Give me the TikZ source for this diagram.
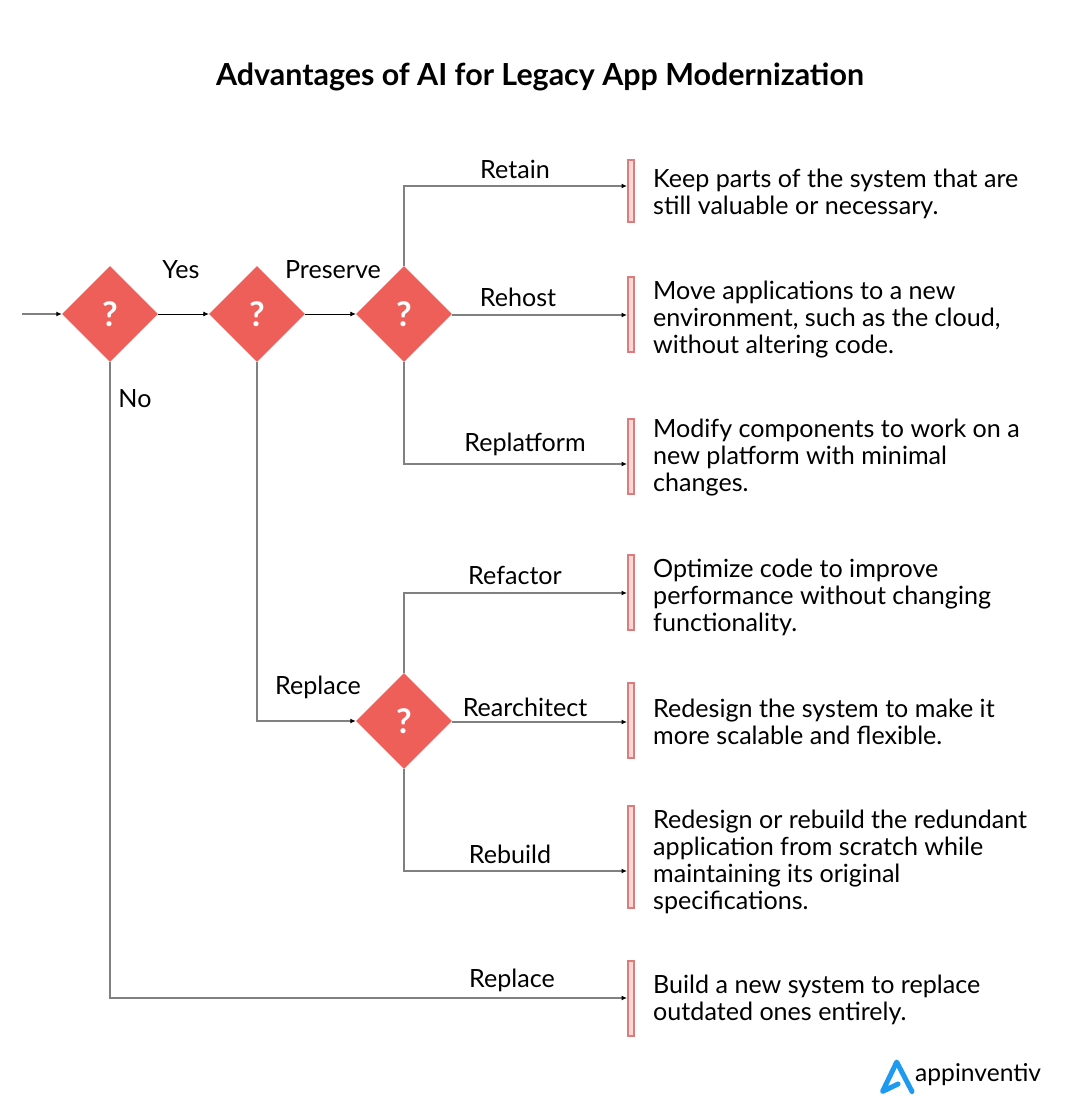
\documentclass[tikz,border=0pt]{standalone}
\usepackage{fontspec}
\setmainfont{Lato}
\usetikzlibrary{shapes.geometric,arrows.meta}

\definecolor{diamondred}{HTML}{EE5F5A}
\definecolor{barfill}{HTML}{FFD6D6}
\definecolor{bardraw}{HTML}{DC7C7C}
\definecolor{logoblue}{HTML}{1E9BF0}

\begin{document}
\begin{tikzpicture}[
        x=1pt, y=-1pt,
        every node/.style={font=\fontsize{25.1}{27}\selectfont, text=black},
        decision/.style={diamond, fill=diamondred, minimum width=96pt, minimum height=96pt, inner sep=0pt, aspect=1, text=white, font=\fontsize{34}{34}\selectfont\bfseries},
        optionbar/.style={rectangle, draw=bardraw, fill=barfill, line width=1.1pt, minimum width=6pt, inner sep=0pt},
        optiontext/.style={anchor=west, align=left, inner sep=0pt},
        branch/.style={draw=black!50, line width=1.2pt, -{Latex[black,length=5.5pt,width=5pt]}},
        direct/.style={draw=black, line width=.8pt, -{Latex[black,length=5.5pt,width=5pt]}}
    ]
    \useasboundingbox (0,0) rectangle (1080,1118);

    \node [font=\fontsize{30.4}{34}\selectfont\bfseries] (title) at (540,77) {Advantages of AI for Legacy App Modernization};

    % decisions
    \node [decision] (first) at (110,314) {?};
    \node [decision] (second) at (257,314) {?};
    \node [decision] (preserve) at (404,314) {?};
    \node [decision] (replace) at (404,721) {?};

    % bars
    \node [optionbar, minimum height=62pt] (retainbar) at (631,191) {};
    \node [optionbar, minimum height=75pt] (rehostbar) at (631,314.5) {};
    \node [optionbar, minimum height=75pt] (replatformbar) at (631,456.5) {};
    \node [optionbar, minimum height=75pt] (refactorbar) at (631,592.5) {};
    \node [optionbar, minimum height=75pt] (rearchitectbar) at (631,720.5) {};
    \node [optionbar, minimum height=102pt] (rebuildbar) at (631,857) {};
    \node [optionbar, minimum height=75pt] (replacebar) at (631,998.5) {};

    % arrow ends
    \coordinate (start) at (22,314);
    \coordinate (retainend) at (627,186);
    \coordinate (rehostend) at (627,315);
    \coordinate (replatformend) at (627,464);
    \coordinate (refactorend) at (627,593);
    \coordinate (rearchitectend) at (627,722);
    \coordinate (rebuildend) at (627,871);
    \coordinate (replaceend) at (627,998);

    % connectors
    \draw [branch] (start) -- (first.west);
    \draw [direct] (first.east) -- (second.west);
    \draw [direct] (second.east) -- (preserve.west);
    \draw [branch] (preserve.north) |- (retainend);
    \draw [branch] (preserve.east |- rehostend) -- (rehostend);
    \draw [branch] (preserve.south) |- (replatformend);
    \draw [branch] (second.south) |- (replace.west);
    \draw [branch] (replace.north) |- (refactorend);
    \draw [branch] (replace.east |- rearchitectend) -- (rearchitectend);
    \draw [branch] (replace.south) |- (rebuildend);
    \draw [branch] (first.south) |- (replaceend);

    % labels
    \node (yes) at (181,270) {Yes};
    \node (preservelabel) at (333,270) {Preserve};
    \node (no) at (135,398.5) {No};
    \node (replacelabel) at (318,687) {Replace};
    \node (retain) at (515,169.5) {Retain};
    \node (rehost) at (518,297.5) {Rehost};
    \node (replatform) at (525,444.5) {Replatform};
    \node (refactor) at (515,575.5) {Refactor};
    \node (rearchitect) at (525,707.5) {Rearchitect};
    \node (rebuild) at (510,854.5) {Rebuild};
    \node (replaceopt) at (512,980) {Replace};

    % descriptions
    \node [optiontext] (retaintext) at (653,194) {Keep parts of the system that are\\still valuable or necessary.};
    \node [optiontext] (rehosttext) at (653,320) {Move applications to a new\\environment, such as the cloud,\\without altering code.};
    \node [optiontext] (replatformtext) at (653,458) {Modify components to work on a\\new platform with minimal\\changes.};
    \node [optiontext] (refactortext) at (653,597) {Optimize code to improve\\performance without changing\\functionality.};
    \node [optiontext] (rearchitecttext) at (653,722) {Redesign the system to make it\\more scalable and flexible.};
    \node [optiontext] (rebuildtext) at (653,862) {Redesign or rebuild the redundant\\application from scratch while\\maintaining its original\\specifications.};
    \node [optiontext] (replacetext) at (653,1000) {Build a new system to replace\\outdated ones entirely.};

    % logo
    \draw [logoblue, line width=5pt, line cap=round, line join=round] (898,1084) -- (882.5,1091.5) -- (896.7,1062) -- (912,1091.5);
    \node [anchor=west, inner sep=0pt, font=\fontsize{24.6}{28}\selectfont] (logotext) at (915,1075) {appinventiv};
\end{tikzpicture}
\end{document}
